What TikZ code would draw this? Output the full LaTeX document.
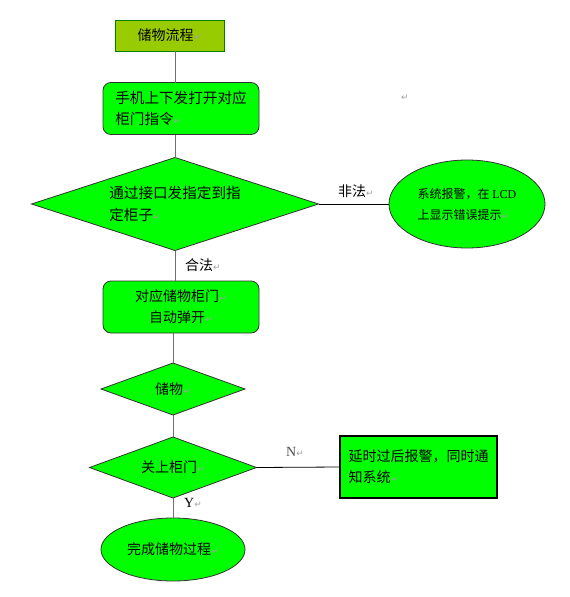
\documentclass[tikz,border=0pt]{standalone}
\usepackage{fontspec}
\setmainfont{Liberation Serif}
\newfontfamily\cjk{Noto Sans CJK SC}
\newfontfamily\symf{DejaVu Sans}
\usetikzlibrary{shapes.geometric}
\definecolor{brgreen}{HTML}{00FF00}
\definecolor{olivegreen}{HTML}{99CC00}
\definecolor{darkgrn}{HTML}{008000}
\definecolor{retgray}{HTML}{A0A0A0}
\definecolor{linegray}{HTML}{707070}
\newcommand\ret{{\symf\fontsize{9}{9}\selectfont\color{retgray}↵}}
\begin{document}
\begin{tikzpicture}[x=1pt,y=-1pt,
  base/.style={font=\cjk\fontsize{14}{21}\selectfont, inner sep=0pt, outer sep=0pt, line width=0.8pt},
  titlebox/.style={base, draw=darkgrn, fill=olivegreen, rectangle},
  rbox/.style={base, draw=black!80, fill=brgreen, rectangle, rounded corners=8pt, align=left},
  sbox/.style={base, draw=black, fill=brgreen, rectangle, line width=1.2pt, align=left},
  dia/.style={base, draw=black!80, fill=brgreen, diamond, align=left},
  ell/.style={base, draw=black!80, fill=brgreen, ellipse, align=left},
  lbl/.style={font=\cjk\fontsize{14}{16}\selectfont, inner sep=0pt, anchor=west},
  ltr/.style={font=\fontsize{14}{16}\selectfont, inner sep=0pt, anchor=west},
  vline/.style={draw=linegray, line width=1pt},
  hline/.style={draw=black, line width=0.8pt}]
\useasboundingbox (0,0) rectangle (570,597);

\node[titlebox, minimum width=109pt, minimum height=31pt] (title) at (169.5,35.5) {储物流程\ret};
\node[rbox, minimum width=156pt, minimum height=52pt, font=\cjk\fontsize{14.6}{21}\selectfont] (box2) at (181,108.5) {手机上下发打开对应\\柜门指令\ret};
\node[dia, aspect=3.1, minimum width=287pt, minimum height=93pt, font=\cjk\fontsize{14.6}{22}\selectfont] (dia1) at (175,204) {通过接口发指定到指\\定柜子\ret};
\node[ell, minimum width=156pt, minimum height=88pt, font=\cjk\fontsize{12}{21}\selectfont] (err) at (467,204) {系统报警，在 {\rmfamily LCD}\\上显示错误提示\ret};
\node[rbox, align=center, minimum width=156pt, minimum height=52pt] (box3) at (181,307) {对应储物柜门\ret\\自动弹开\ret};
\node[dia, aspect=2.77, minimum width=144pt, minimum height=52pt] (dia2) at (173,389) {储物\ret};
\node[dia, aspect=2.74, minimum width=167pt, minimum height=61pt] (dia3) at (173,467.5) {关上柜门\ret};
\node[sbox, minimum width=157pt, minimum height=62pt] (warn) at (418.5,467) {延时过后报警，同时通\\知系统\ret};
\node[ell, minimum width=144pt, minimum height=63pt] (done) at (173,549.5) {完成储物过程\ret};

\node[lbl] (illegal) at (338,191) {非法\ret};
\node[lbl] (legal) at (185,265) {合法\ret};
\node[ltr, text=black!70] (nlbl) at (286,452) {N\ret};
\node[ltr] (ylbl) at (184,503) {Y\ret};
\node[inner sep=0pt] (stray) at (405,98) {\ret};

\draw[vline] (title.south -| dia1.north) -- (box2.north -| dia1.north);
\draw[vline] (box2.south -| dia1.north) -- (dia1.north);
\draw[vline] (dia1.south) -- (box3.north -| dia1.south);
\draw[vline] (box3.south -| dia2.north) -- (dia2.north);
\draw[vline] (dia2.south) -- (dia3.north);
\draw[vline] (dia3.south) -- (done.north);
\draw[hline] (dia1.east) -- (err.west);
\draw[hline] (dia3.east) -- (warn.west);
\end{tikzpicture}
\end{document}
